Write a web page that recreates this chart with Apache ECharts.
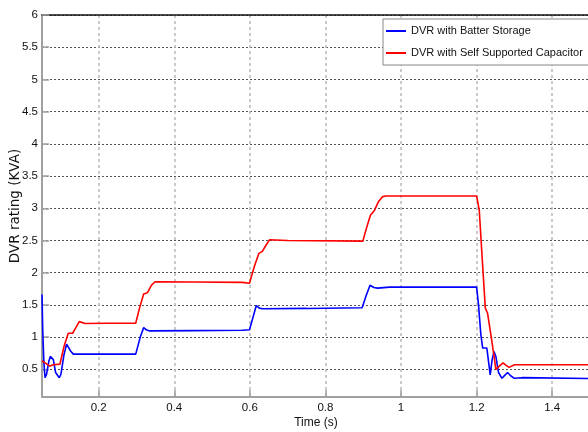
<!DOCTYPE html>
<html>
<head>
<meta charset="utf-8">
<script src="https://cdn.jsdelivr.net/npm/echarts@6/dist/echarts.min.js"></script>
<style>
  html, body { margin: 0; padding: 0; background: #fff; }
  #chart { width: 588px; height: 432px; }
</style>
</head>
<body>
<div id="chart"></div>
<script>
// DVR rating over time for the two compensation schemes
const seriesNames = ['DVR with Batter Storage', 'DVR with Self Supported Capacitor'];

const batteryTime = [0.05, 0.052, 0.055, 0.058, 0.062, 0.068, 0.072, 0.0756, 0.08, 0.086, 0.0957, 0.1, 0.108, 0.115, 0.12, 0.126, 0.133, 0.2, 0.298, 0.31, 0.319, 0.327, 0.335, 0.45, 0.58, 0.599, 0.608, 0.617, 0.625, 0.634, 0.75, 0.897, 0.908, 0.918, 0.928, 0.938, 0.97, 1.1, 1.2, 1.205, 1.211, 1.216, 1.227, 1.232, 1.236, 1.241, 1.246, 1.251, 1.258, 1.267, 1.275, 1.282, 1.29, 1.3, 1.32, 1.5];
const batteryKVA  = [1.66, 1.1, 0.6, 0.37, 0.42, 0.62, 0.7, 0.71, 0.65, 0.45, 0.37, 0.42, 0.72, 0.89, 0.86, 0.78, 0.735, 0.735, 0.735, 1.0, 1.147, 1.11, 1.096, 1.1, 1.107, 1.115, 1.3, 1.49, 1.45, 1.44, 1.445, 1.455, 1.65, 1.805, 1.77, 1.76, 1.775, 1.775, 1.775, 1.5, 1.05, 0.83, 0.83, 0.6, 0.414, 0.65, 0.775, 0.7, 0.45, 0.36, 0.41, 0.45, 0.4, 0.36, 0.37, 0.357];

const capacitorTime = [0.05, 0.058, 0.071, 0.08, 0.0975, 0.108, 0.1195, 0.131, 0.14, 0.1485, 0.164, 0.22, 0.298, 0.308, 0.319, 0.329, 0.339, 0.349, 0.45, 0.58, 0.599, 0.612, 0.624, 0.633, 0.643, 0.652, 0.7, 0.899, 0.909, 0.919, 0.93, 0.94, 0.951, 0.96, 1.2, 1.207, 1.215, 1.223, 1.229, 1.24, 1.251, 1.26, 1.27, 1.278, 1.286, 1.3, 1.5];
const capacitorKVA  = [0.63, 0.6, 0.55, 0.57, 0.58, 0.85, 1.06, 1.06, 1.15, 1.24, 1.21, 1.215, 1.215, 1.45, 1.67, 1.69, 1.8, 1.86, 1.855, 1.85, 1.836, 2.1, 2.30, 2.33, 2.43, 2.51, 2.5, 2.49, 2.7, 2.89, 2.97, 3.1, 3.18, 3.19, 3.19, 2.97, 2.2, 1.45, 1.37, 0.95, 0.5, 0.55, 0.6, 0.56, 0.53, 0.57, 0.57];

const xTicks = [0.2, 0.4, 0.6, 0.8, 1, 1.2, 1.4];
const yTicks = [0.5, 1, 1.5, 2, 2.5, 3, 3.5, 4, 4.5, 5, 5.5, 6];

const zip = (xs, ys) => xs.map((x, i) => [x, ys[i]]);

const FONT = '"Liberation Sans", Arial, sans-serif';
const axisGray = '#a0a0a0';

const chart = echarts.init(document.getElementById('chart'), null, { renderer: 'canvas' });

chart.setOption({
  animation: false,
  backgroundColor: '#fff',
  grid: { left: 42, right: -2, top: 15, bottom: 35, containLabel: false, outerBoundsMode: 'none' },
  legend: {
    orient: 'vertical',
    left: 383,
    top: 19,
    padding: [5, 6, 5, 3],
    itemGap: 8,
    itemWidth: 20,
    itemHeight: 2,
    icon: 'rect',
    borderColor: '#888',
    borderWidth: 1,
    backgroundColor: '#fff',
    textStyle: { fontFamily: FONT, fontSize: 11, color: '#111', lineHeight: 14 },
    data: seriesNames
  },
  xAxis: [{
    type: 'value',
    min: 0.05,
    max: 1.5,
    name: 'Time (s)',
    nameLocation: 'middle',
    nameGap: 20,
    nameMoveOverlap: false,
    nameTextStyle: { fontFamily: FONT, fontSize: 12, color: '#111' },
    axisLine: { show: true, onZero: false, lineStyle: { color: axisGray, width: 2 } },
    axisTick: { show: true, inside: true, length: 7, customValues: xTicks, lineStyle: { color: axisGray, width: 1.5 } },
    axisLabel: { customValues: xTicks, margin: 5, fontFamily: FONT, fontSize: 11.5, color: '#111' },
    splitLine: { show: true, lineStyle: { color: '#b8b8b8', width: 1.5, type: [3, 3] } }
  }, {
    type: 'value',
    position: 'top',
    min: 0.05,
    max: 1.5,
    axisLine: { show: true, onZero: false, lineStyle: { color: '#111', width: 1.5 } },
    axisTick: { show: false },
    axisLabel: { show: false },
    splitLine: { show: false }
  }],
  yAxis: {
    type: 'value',
    min: 0.07,
    max: 6,
    name: 'DVR rating (KVA)',
    nameLocation: 'middle',
    nameGap: 20,
    nameMoveOverlap: false,
    nameTextStyle: { fontFamily: '"DejaVu Sans", sans-serif', fontSize: 13.5, color: '#111' },
    axisLine: { show: true, onZero: false, lineStyle: { color: axisGray, width: 2 } },
    axisTick: { show: true, inside: true, length: 7, customValues: yTicks, lineStyle: { color: axisGray, width: 1.5 } },
    axisLabel: { customValues: yTicks, margin: 4, fontFamily: FONT, fontSize: 11.5, color: '#111' },
    splitLine: { show: true, lineStyle: { color: '#555', width: 1, type: [2, 2] } }
  },
  series: [{
    name: seriesNames[0],
    type: 'line',
    data: zip(batteryTime, batteryKVA),
    showSymbol: false,
    symbol: 'none',
    color: '#0000ff',
    lineStyle: { color: '#0000ff', width: 1.6 },
    z: 3
  }, {
    name: seriesNames[1],
    type: 'line',
    data: zip(capacitorTime, capacitorKVA),
    showSymbol: false,
    symbol: 'none',
    color: '#ff0000',
    lineStyle: { color: '#ff0000', width: 1.6 },
    z: 4
  }]
});
</script>
</body>
</html>
